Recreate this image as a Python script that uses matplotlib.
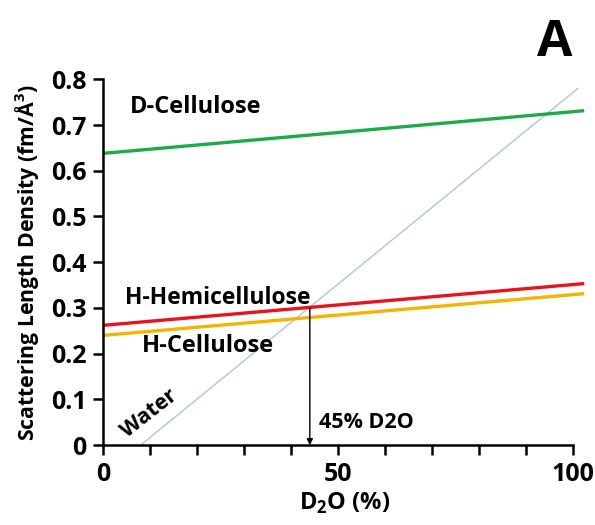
import numpy as np
import matplotlib
matplotlib.use('Agg')
import matplotlib.pyplot as plt

plt.rcParams['font.family'] = ['Open Sans', 'DejaVu Sans']
plt.rcParams['font.weight'] = 'bold'

# data (D2O %, SLD fm/A^3)
d2o = [0, 102]
d_cellulose = [0.638, 0.731]
h_hemicellulose = [0.262, 0.353]
h_cellulose = [0.240, 0.331]
water_x = [8, 101]
water_y = [0.0, 0.78]
match_point = 44
match_sld = 0.30

fig = plt.figure(figsize=(5.95, 5.25), dpi=100)
ax = fig.add_axes([0.173, 0.152, 0.814, 0.697])

ax.plot(water_x, water_y, color='#aec6dc', lw=1.0, zorder=1)
ax.plot(d2o, d_cellulose, color='#1eaa4c', lw=2.4)
ax.plot(d2o, h_hemicellulose, color='#e8141c', lw=2.4)
ax.plot(d2o, h_cellulose, color='#f5b400', lw=2.4)

ax.annotate('', xy=(match_point, 0.0), xytext=(match_point, match_sld),
            arrowprops=dict(arrowstyle='-|>', color='black', lw=1.0,
                            mutation_scale=9, shrinkA=0, shrinkB=0))

fs = 17
ax.text(5.8, 0.74, 'D-Cellulose', fontsize=fs, fontweight='bold', va='center')
ax.text(4.6, 0.322, 'H-Hemicellulose', fontsize=16.5, fontweight='bold', va='center')
ax.text(8.2, 0.217, 'H-Cellulose', fontsize=fs, fontweight='bold', va='center')
ax.text(3.0, 0.008, 'Water', fontsize=15.5, fontweight='bold', rotation=38,
        va='bottom', ha='left')
ax.text(46, 0.05, '45% D2O', fontsize=15.5, fontweight='bold', va='center')

ax.set_xlim(0, 103)
ax.set_ylim(0, 0.8)
ax.spines['top'].set_visible(False)
ax.spines['right'].set_visible(False)
ax.spines['bottom'].set_bounds(0, 100)
ax.spines['left'].set_linewidth(1.8)
ax.spines['bottom'].set_linewidth(1.8)

ax.set_xticks(np.arange(0, 101, 10))
ax.set_xticklabels(['0', '', '', '', '', '50', '', '', '', '', '100'])
ax.set_yticks(np.arange(0, 0.81, 0.1))
ax.set_yticklabels(['0', '0.1', '0.2', '0.3', '0.4', '0.5', '0.6', '0.7', '0.8'])
ax.tick_params(axis='both', direction='out', length=7, width=1.8,
               labelsize=18, pad=5)
for lab in ax.get_xticklabels() + ax.get_yticklabels():
    lab.set_fontweight('bold')

ax.set_xlabel('D$_\\mathregular{2}$O (%)', fontsize=17, fontweight='bold', labelpad=3)
ax.set_ylabel('Scattering Length Density (fm/Å$^\\mathregular{3}$)', fontsize=15.3,
              fontweight='bold', labelpad=7)

fig.text(0.933, 0.918, 'A', fontsize=37, fontweight='bold', ha='center', va='center')

fig.savefig('out.png', dpi=100)
